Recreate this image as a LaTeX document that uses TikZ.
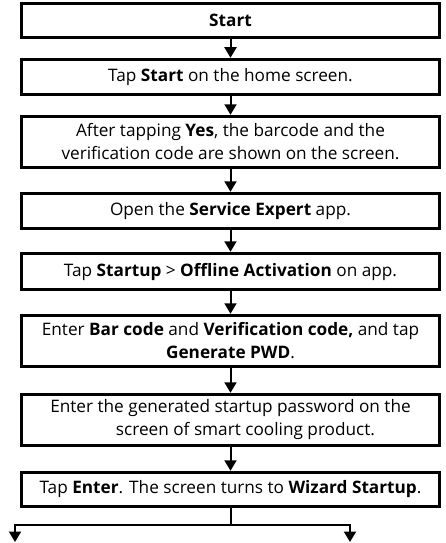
\documentclass[tikz,border=0pt]{standalone}
\usepackage{fontspec}
\setmainfont{Open Sans}
\usetikzlibrary{arrows.meta}
\begin{document}
\begin{tikzpicture}[x=1pt,y=1pt,
  stepbox/.style={draw=black,line width=3.5pt,minimum width=418pt,align=center,inner sep=0pt,font=\fontsize{17.2}{23}\selectfont},
  arr/.style={line width=2pt,-{Triangle[width=12pt,length=10.5pt]}},
  ln/.style={line width=2pt}]
\useasboundingbox (0,0) rectangle (445,-543);
\node[stepbox,minimum height=34pt] (b1) at (230.5,-20.5) {\textbf{Start}};
\node[stepbox,minimum height=35pt] (b2) at (230.5,-77) {Tap \textbf{Start} on the home screen.};
\node[stepbox,minimum height=51pt] (b3) at (230.5,-142) {After tapping \textbf{Yes}, the barcode and the\\verification code are shown on the screen.};
\node[stepbox,minimum height=35pt] (b4) at (230.5,-211) {Open the \textbf{Service Expert} app.};
\node[stepbox,minimum height=36pt] (b5) at (230.5,-271.5) {Tap \textbf{Startup} > \textbf{Offline Activation} on app.};
\node[stepbox,minimum height=51pt] (b6) at (230.5,-341) {Enter \textbf{Bar code} and \textbf{Verification code,} and tap\\\textbf{Generate PWD}.};
\node[stepbox,minimum height=51pt] (b7) at (230.5,-420) {Enter the generated startup password on the\\\hspace*{30pt}screen of smart cooling product.};
\node[stepbox,minimum height=34pt] (b8) at (230.5,-489.5) {Tap \textbf{Enter}. The screen turns to \textbf{Wizard Startup}.};
\draw[arr] (b1) -- (b2);
\draw[arr] (b2) -- (b3);
\draw[arr] (b3) -- (b4);
\draw[arr] (b4) -- (b5);
\draw[arr] (b5) -- (b6);
\draw[arr] (b6) -- (b7);
\draw[arr] (b7) -- (b8);
\coordinate (sp) at (b8.south |- 0,-525);
\coordinate (l) at (15,-542);
\coordinate (r) at (350,-542);
\draw[ln] (b8) -- (sp);
\draw[arr] (sp) -| (l);
\draw[arr] (sp) -| (r);
\end{tikzpicture}
\end{document}
